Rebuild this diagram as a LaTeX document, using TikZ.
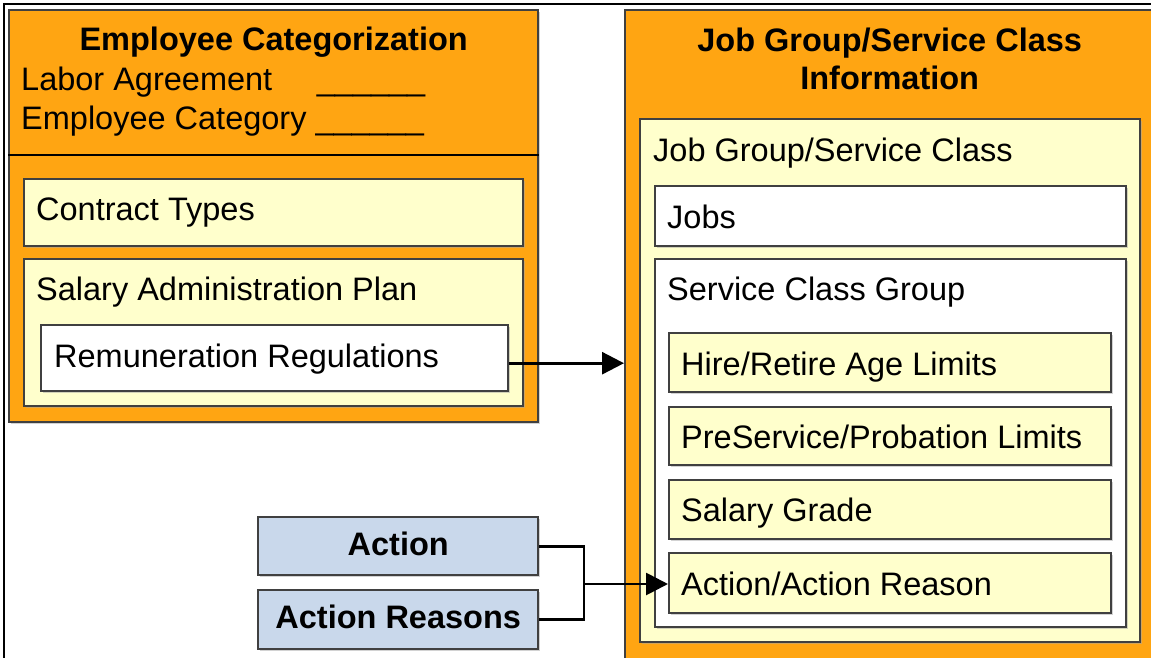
\documentclass[tikz,border=0pt]{standalone}
\usepackage{fontspec}
\setmainfont{Liberation Sans}
\usetikzlibrary{arrows.meta,shadows}
\definecolor{catorange}{RGB}{255,165,18}
\definecolor{catyellow}{RGB}{255,255,204}
\definecolor{catblue}{RGB}{201,216,235}
\definecolor{catline}{RGB}{64,64,64}
\newcommand\catfont{\fontsize{32.5}{39}\selectfont}

\begin{document}
\begin{tikzpicture}[x=1pt,y=-1pt,font=\catfont,
	frame/.style={draw=catline,line width=2.4pt,anchor=north west,inner sep=0pt,
		drop shadow={shadow xshift=1.5pt,shadow yshift=-1.5pt,fill=black!35}},
	title/.style={anchor=base west,inner sep=0pt},
	head/.style={anchor=base,inner sep=0pt,font=\catfont\bfseries},
	link/.style={line width=2.8pt},
	tip/.style={link,-{Triangle[length=22pt,width=22pt]}}
	]
	\useasboundingbox (0,0) rectangle (1151,658);
	\clip (0,0) rectangle (1151,658);
	\fill[white] (0,0) rectangle (1151,658);
	\draw[line width=1.5pt] (4,670) -- (4,4) -- (1160,4);
	
	% left block
	\path
		(8,9) node[frame,fill=catorange,minimum width=529pt,minimum height=412pt] (EC) {}
		(624,9) node[frame,fill=catorange,minimum width=529pt,minimum height=660pt] (JG) {}
		;
	\draw[line width=2pt]
		([yshift=-146pt]EC.north west) -- ([yshift=-146pt]EC.north east)
	;
	\path
		([yshift=-42pt]EC.north) node[head] (ECt) {Employee Categorization}
		(21,91) node[title] (LA) {\makebox[9.1em][l]{Labor Agreement}\_\_\_\_\_\_}
		(21,130) node[title] (ECat) {Employee Category \_\_\_\_\_\_}
		(23,178) node[frame,fill=catyellow,minimum width=499pt,minimum height=67pt] (CT) {}
		([xshift=13pt,yshift=-42pt]CT.north west) node[title] (CTt) {Contract Types}
		(23,258) node[frame,fill=catyellow,minimum width=499pt,minimum height=147pt] (SAP) {}
		([xshift=13pt,yshift=-42pt]SAP.north west) node[title] (SAPt) {Salary Administration Plan}
		(40,324) node[frame,fill=white,minimum width=467pt,minimum height=66pt] (RR) {}
		([xshift=14pt,yshift=-43pt]RR.north west) node[title] (RRt) {Remuneration Regulations}
		;
	
	% right block
	\path
		([yshift=-43pt]JG.north) node[head] (JGt1) {Job Group/Service Class}
		([yshift=-81pt]JG.north) node[head] (JGt2) {Information}
		(639,118) node[frame,fill=catyellow,minimum width=500pt,minimum height=523pt] (JGS) {}
		([xshift=14pt,yshift=-43pt]JGS.north west) node[title] (JGSt) {Job Group/Service Class}
		(654,185) node[frame,fill=white,minimum width=471pt,minimum height=60pt] (Jobs) {}
		([xshift=13pt,yshift=-43pt]Jobs.north west) node[title] (Jobst) {Jobs}
		(654,258) node[frame,fill=white,minimum width=471pt,minimum height=368pt] (SCG) {}
		([xshift=13pt,yshift=-42pt]SCG.north west) node[title] (SCGt) {Service Class Group}
		(668,332) node[frame,fill=catyellow,minimum width=442pt,minimum height=59pt] (HR) {}
		([xshift=13pt,yshift=-43pt]HR.north west) node[title] (HRt) {Hire/Retire Age Limits}
		(668,406) node[frame,fill=catyellow,minimum width=442pt,minimum height=58pt] (PS) {}
		([xshift=13pt,yshift=-42pt]PS.north west) node[title] (PSt) {PreService/Probation Limits}
		(668,479) node[frame,fill=catyellow,minimum width=442pt,minimum height=59pt] (SG) {}
		([xshift=13pt,yshift=-42pt]SG.north west) node[title] (SGt) {Salary Grade}
		(668,552) node[frame,fill=catyellow,minimum width=442pt,minimum height=60pt] (AAR) {}
		([xshift=13pt,yshift=-43pt]AAR.north west) node[title] (AARt) {Action/Action Reason}
		;
	
	% actions
	\path
		(257,516) node[frame,fill=catblue,minimum width=280pt,minimum height=58pt] (Act) {}
		([yshift=-39pt]Act.north) node[head] (Actt) {Action}
		(257,589) node[frame,fill=catblue,minimum width=280pt,minimum height=59pt] (ActR) {}
		([yshift=-39pt]ActR.north) node[head] (ActRt) {Action Reasons}
		;
	\coordinate (J) at (584,584);
	
	\draw[tip] ([yshift=-5pt]RR.east) -- ([yshift=-5pt]RR.east -| JG.west);
	\draw[link] (Act.east) -| (J) |- (ActR.east);
	\draw[tip] (J) -- (J -| AAR.west);
\end{tikzpicture}
\end{document}
